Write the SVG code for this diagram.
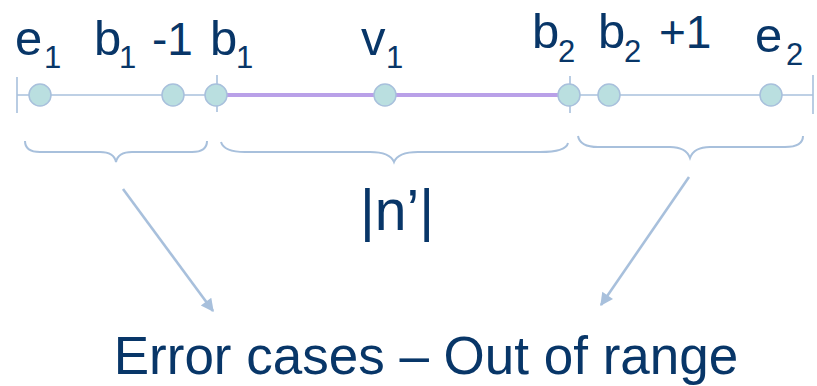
<svg xmlns="http://www.w3.org/2000/svg" width="817" height="386" viewBox="0 0 817 386">
<style>
.t{font-family:"Liberation Sans",Arial,sans-serif;fill:#083668}
.m{font-size:49px}
.s{font-size:31px}
.p{font-size:46px}
.dot{fill:#BADFE0;stroke:#A8C0DC;stroke-width:1.5}
.ln{stroke:#A8C0DC;stroke-width:1.6;fill:none}
.br{stroke:#A8C0DC;stroke-width:2;fill:none}
.ar{stroke:#A8C0DC;stroke-width:2.6;fill:none}
</style>
<defs>
<marker id="ah" viewBox="0 0 10 10" refX="9" refY="5" markerWidth="15" markerHeight="13" orient="auto" markerUnits="userSpaceOnUse">
<path d="M0,0 L10,5 L0,10 z" fill="#A8C0DC"/>
</marker>
</defs>
<rect width="817" height="386" fill="#fff"/>
<g id="axis">
<line class="ln" x1="17" y1="95" x2="813" y2="95"/>
<line x1="216" y1="95" x2="569" y2="95" stroke="#B9A0E8" stroke-width="4"/>
<line class="ln" x1="17" y1="77" x2="17" y2="113"/>
<line class="ln" x1="217" y1="75" x2="217" y2="112"/>
<line class="ln" x1="570" y1="76" x2="570" y2="113"/>
<line class="ln" x1="813" y1="75" x2="813" y2="114"/>
</g>
<g id="e1">
<circle class="dot" cx="40" cy="95" r="11"/>
<text class="t m" x="15" y="55">e</text><text class="t s" x="44" y="68">1</text>
</g>
<g id="b1m1">
<circle class="dot" cx="173" cy="95" r="11"/>
<text class="t m" x="94" y="55">b</text><text class="t s" x="119" y="68">1</text><text class="t p" x="152" y="55">-1</text>
</g>
<g id="b1">
<circle class="dot" cx="216" cy="95" r="11"/>
<text class="t m" x="210" y="55">b</text><text class="t s" x="236" y="68">1</text>
</g>
<g id="v1">
<circle class="dot" cx="385" cy="95" r="11"/>
<text class="t m" x="361" y="55">v</text><text class="t s" x="386" y="68">1</text>
</g>
<g id="b2">
<circle class="dot" cx="569" cy="95" r="11"/>
<text class="t m" x="532" y="48">b</text><text class="t s" x="558" y="62">2</text>
</g>
<g id="b2p1">
<circle class="dot" cx="609" cy="95" r="11"/>
<text class="t m" x="598" y="48">b</text><text class="t s" x="624" y="62">2</text><text class="t p" x="659" y="48">+1</text>
</g>
<g id="e2">
<circle class="dot" cx="771" cy="95" r="11"/>
<text class="t m" x="755" y="52">e</text><text class="t s" x="786" y="65">2</text>
</g>
<g id="braces">
<path class="br" d="M25,141 Q25,152 40,152 L100,152 Q114,152 116,162 Q118,152 132,152 L192,152 Q207,152 207,141"/>
<path class="br" d="M221,142 Q224,152 245,152 L370,152 Q390,152 394,162 Q398,152 418,152 L540,152 Q566,152 568,143"/>
<path class="br" d="M578,136 Q580,147 598,147 L670,147 Q686,147 690,158 Q694,147 710,147 L785,147 Q803,147 803,136"/>
</g>
<g id="nprime">
<text class="t" x="397" y="230" font-size="57" text-anchor="middle">|n’|</text>
</g>
<g id="connectors">
<line class="ar" x1="123" y1="189" x2="213" y2="311" marker-end="url(#ah)"/>
<line class="ar" x1="689" y1="177" x2="601" y2="305" marker-end="url(#ah)"/>
</g>
<g id="caption">
<text class="t" x="426" y="374" font-size="53" text-anchor="middle">Error cases – Out of range</text>
</g>
</svg>
